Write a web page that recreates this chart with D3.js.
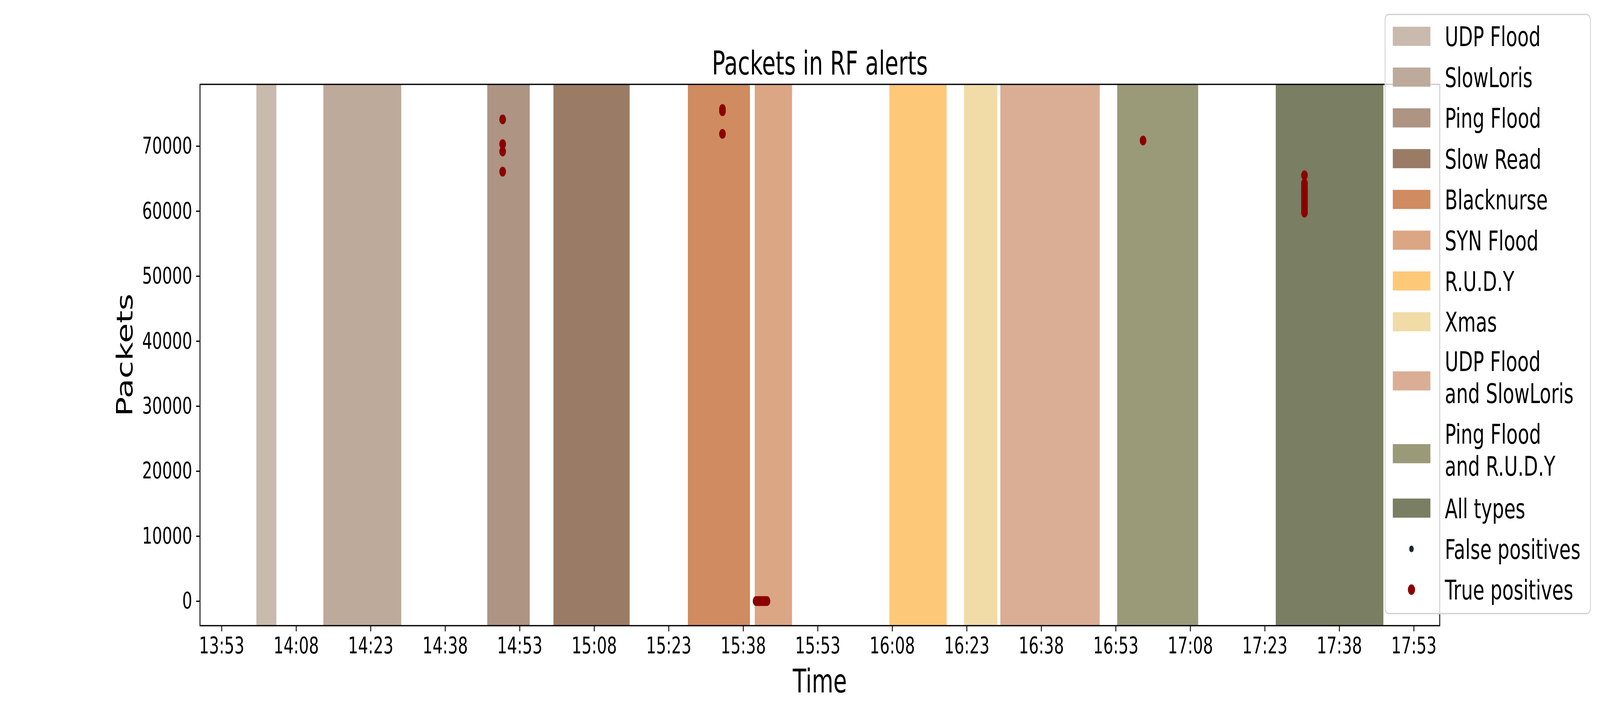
<!DOCTYPE html>
<html>
<head>
<meta charset="utf-8">
<script src="https://cdn.jsdelivr.net/npm/d3@7"></script>
<style>
  html, body { margin: 0; padding: 0; background: #ffffff; overflow: hidden; }
  svg { display: block; width: 100vw; height: 100vh; font-family: "DejaVu Sans", sans-serif; }
</style>
</head>
<body>
<div id="chart"></div>
<script>
// attack windows (one band each)
var attackNames = ["UDP Flood", "SlowLoris", "Ping Flood", "Slow Read", "Blacknurse", "SYN Flood",
  "R.U.D.Y", "Xmas", "UDP Flood and SlowLoris", "Ping Flood and R.U.D.Y", "All types"];
var attackStarts = ["14:00:00", "14:13:29", "14:46:29", "14:59:48", "15:26:52", "15:40:20",
  "16:07:26", "16:22:28", "16:29:46", "16:53:18", "17:25:13"];
var attackEnds = ["14:04:02", "14:29:10", "14:55:02", "15:15:09", "15:39:22", "15:47:50",
  "16:18:58", "16:29:10", "16:49:47", "17:09:36", "17:46:53"];
var attackColors = ["#c9baae", "#bdaa9b", "#ad9483", "#9a7c66", "#d08b61", "#dba684",
  "#fec879", "#f1dba7", "#daae95", "#9b9a78", "#7a7e62"];
var legendLabels = ["UDP Flood", "SlowLoris", "Ping Flood", "Slow Read", "Blacknurse", "SYN Flood",
  "R.U.D.Y", "Xmas", "UDP Flood\nand SlowLoris", "Ping Flood\nand R.U.D.Y", "All types"];

// alerts raised by the RF model
var trueTimes = ["14:49:35", "14:49:35", "14:49:35", "14:49:35",
  "15:33:50", "15:33:50", "15:33:50",
  "15:40:36", "15:40:48", "15:41:00", "15:41:12", "15:41:24", "15:41:36", "15:41:48",
  "15:42:00", "15:42:12", "15:42:24", "15:42:36", "15:42:48",
  "16:58:30",
  "17:31:00", "17:31:00", "17:31:00", "17:31:00", "17:31:00", "17:31:00", "17:31:00",
  "17:31:00", "17:31:00", "17:31:00", "17:31:00", "17:31:00", "17:31:00"];
var truePackets = [74100, 70300, 69150, 66050,
  75700, 75350, 71870,
  0, 0, 0, 0, 0, 0, 0, 0, 0, 0, 0, 0,
  70850,
  65500, 64250, 63800, 63400, 63000, 62600, 62200, 61800, 61400, 61000, 60600, 60200, 59750];
var falseTimes = [];
var falsePackets = [];

var xTickLabels = ["13:53", "14:08", "14:23", "14:38", "14:53", "15:08", "15:23", "15:38",
  "15:53", "16:08", "16:23", "16:38", "16:53", "17:08", "17:23", "17:38", "17:53"];
var yTickValues = [0, 10000, 20000, 30000, 40000, 50000, 60000, 70000];

//set up graph boundaries
var svgWidth = 6000;
var svgHeight = 1800;

var margin = {
  top: 216,
  right: 601,
  bottom: 198,
  left: 750
};

var width = svgWidth - margin.left - margin.right;
var height = svgHeight - margin.top - margin.bottom;

var lineW = 3.3;
var tickLen = 14.6;

// the figure is drawn in 6000x1800 units and stretched over the whole window
var svg = d3.select("#chart")
  .append("svg")
  .attr("viewBox", `0 0 ${svgWidth} ${svgHeight}`)
  .attr("preserveAspectRatio", "none");

var chartGroup = svg.append("g")
  .attr("transform", `translate(${margin.left}, ${margin.top})`);

var parseTime = d3.timeParse("%H:%M:%S");
var parseTick = d3.timeParse("%H:%M");

var bands = attackNames.map(function(name, i) {
  return { name: name, start: parseTime(attackStarts[i]), end: parseTime(attackEnds[i]) };
});
var truePoints = trueTimes.map(function(t, i) {
  return { time: parseTime(t), packets: truePackets[i] };
});
var falsePoints = falseTimes.map(function(t, i) {
  return { time: parseTime(t), packets: falsePackets[i] };
});

// scales with 5% padding like matplotlib
var tMin = d3.min(bands, d => d.start);
var tMax = d3.max(bands, d => d.end);
var tPad = (tMax - tMin) * 0.05;

var xTimeScale = d3.scaleTime()
  .domain([new Date(+tMin - tPad), new Date(+tMax + tPad)])
  .range([0, width]);

var yMax = d3.max(truePackets.concat(falsePackets));
var yLinearScale = d3.scaleLinear()
  .domain([-0.05 * yMax, yMax * 1.05])
  .range([height, 0]);

var colorScale = d3.scaleOrdinal()
  .domain(attackNames)
  .range(attackColors);

// attack bands
chartGroup.selectAll("rect.band")
  .data(bands)
  .enter()
  .append("rect")
  .attr("class", "band")
  .attr("x", d => xTimeScale(d.start))
  .attr("width", d => xTimeScale(d.end) - xTimeScale(d.start))
  .attr("y", 0)
  .attr("height", height)
  .attr("fill", d => colorScale(d.name));

// alert points
chartGroup.selectAll("circle.fp")
  .data(falsePoints)
  .enter()
  .append("circle")
  .attr("class", "fp")
  .attr("cx", d => xTimeScale(d.time))
  .attr("cy", d => yLinearScale(d.packets))
  .attr("r", 8.5)
  .attr("fill", "#1b2730");

chartGroup.selectAll("circle.tp")
  .data(truePoints)
  .enter()
  .append("circle")
  .attr("class", "tp")
  .attr("cx", d => xTimeScale(d.time))
  .attr("cy", d => yLinearScale(d.packets))
  .attr("r", 12.5)
  .attr("fill", "#8b0000");

// axes
var bottomAxis = d3.axisBottom(xTimeScale)
  .tickValues(xTickLabels.map(parseTick))
  .tickFormat(d3.timeFormat("%H:%M"))
  .tickSize(tickLen)
  .tickSizeOuter(0)
  .tickPadding(tickLen);

var leftAxis = d3.axisLeft(yLinearScale)
  .tickValues(yTickValues)
  .tickFormat(d3.format("d"))
  .tickSize(tickLen)
  .tickSizeOuter(0)
  .tickPadding(tickLen);

var xAxisG = chartGroup.append("g")
  .attr("transform", `translate(0, ${height})`)
  .call(bottomAxis);

var yAxisG = chartGroup.append("g")
  .call(leftAxis);

[xAxisG, yAxisG].forEach(function(g) {
  g.select(".domain").remove();
  g.selectAll(".tick line").attr("stroke", "#000").attr("stroke-width", lineW);
  g.selectAll(".tick text").attr("fill", "#000").attr("font-size", 59)
    .attr("font-family", "DejaVu Sans");
});

// frame
chartGroup.append("rect")
  .attr("x", 0)
  .attr("y", 0)
  .attr("width", width)
  .attr("height", height)
  .attr("fill", "none")
  .attr("stroke", "#000")
  .attr("stroke-width", lineW);

// title and axes labels
svg.append("text")
  .attr("x", margin.left + width / 2)
  .attr("y", 191)
  .attr("text-anchor", "middle")
  .attr("font-size", 83)
  .text("Packets in RF alerts");

svg.append("text")
  .attr("x", margin.left + width / 2)
  .attr("y", 1773)
  .attr("text-anchor", "middle")
  .attr("font-size", 83)
  .text("Time");

svg.append("text")
  .attr("transform", `translate(497, ${margin.top + height / 2}) rotate(-90)`)
  .attr("text-anchor", "middle")
  .attr("font-size", 83)
  .text("Packets");

// legend
var legendItems = legendLabels.map(function(label, i) {
  return { label: label, type: "patch", color: attackColors[i] };
});
legendItems.push({ label: "False positives", type: "dot", color: "#1b2730", r: 8.5 });
legendItems.push({ label: "True positives", type: "dot", color: "#8b0000", r: 13.5 });

var legendG = svg.append("g");
legendG.append("rect")
  .attr("x", 5194)
  .attr("y", 37)
  .attr("width", 770)
  .attr("height", 1534)
  .attr("rx", 14)
  .attr("fill", "#ffffff")
  .attr("fill-opacity", 0.8)
  .attr("stroke", "#d4d4d4")
  .attr("stroke-width", lineW);

var rowH = 104.4;
var lineH = 82;
var legendFont = 70;
var cursor = 40.8;
legendItems.forEach(function(item) {
  var lines = item.label.split("\n");
  var h = rowH + (lines.length - 1) * lineH;
  var cy = cursor + h / 2;
  cursor += h;
  var markY = cy + (lines.length - 1) * 6;
  if (item.type === "patch") {
    legendG.append("rect")
      .attr("x", 5223)
      .attr("y", markY - 24.5)
      .attr("width", 141)
      .attr("height", 49)
      .attr("fill", item.color);
  } else {
    legendG.append("ellipse")
      .attr("cx", 5293)
      .attr("cy", markY)
      .attr("rx", item.r)
      .attr("ry", item.r)
      .attr("fill", item.color);
  }
  var textCenter = cy - (lines.length - 1) * 4;
  var firstBase = textCenter - (lines.length - 1) * lineH / 2 + 0.729 * legendFont / 2;
  var txt = legendG.append("text")
    .attr("font-size", legendFont)
    .attr("fill", "#000");
  lines.forEach(function(line, j) {
    txt.append("tspan")
      .attr("x", 5418)
      .attr("y", firstBase + j * lineH)
      .text(line);
  });
});
</script>
</body>
</html>
